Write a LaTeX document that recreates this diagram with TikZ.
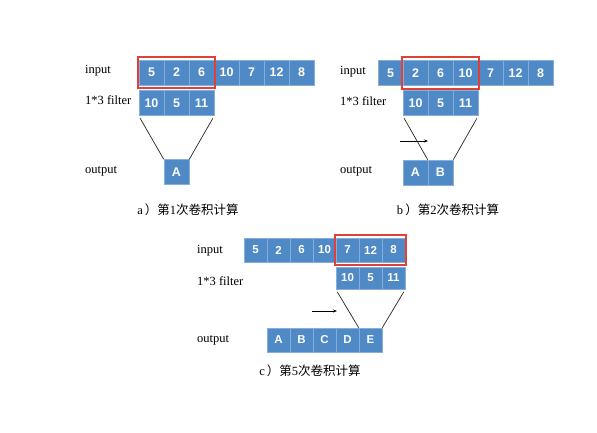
\documentclass[tikz,border=0pt]{standalone}
\usepackage{fontspec}
\setmainfont{Liberation Serif}
\newfontfamily\cellfont{Liberation Sans}
\newfontfamily\cjkfont{Noto Sans CJK SC}
\usetikzlibrary{fit,arrows.meta}
\definecolor{cellblue}{HTML}{4F89C6}
\definecolor{celledge}{HTML}{86AEDA}
\definecolor{boxred}{HTML}{E0403A}
\tikzset{
  cell/.style={rectangle,fill=cellblue,draw=celledge,line width=0.6pt,
    minimum width=25pt,minimum height=25pt,inner sep=0pt,text=white,
    font=\cellfont\bfseries\fontsize{12.5}{12.5}\selectfont},
  smallcell/.style={cell,minimum width=23pt,minimum height=24pt,
    font=\cellfont\bfseries\fontsize{11.5}{11.5}\selectfont},
  lbl/.style={anchor=west,inner sep=0pt,font=\fontsize{12.5}{13}\selectfont},
  captext/.style={inner sep=0pt,font=\fontsize{12.5}{13}\selectfont},
  redbox/.style={draw=boxred,line width=1.8pt,inner xsep=1pt,inner ysep=3pt},
  funnel/.style={draw=black!85,line width=0.7pt},
  shiftarrow/.style={draw=black,line width=0.7pt,-{Stealth[length=4pt,width=3pt]}}
}
\begin{document}
\begin{tikzpicture}[x=1pt,y=-1pt]
\useasboundingbox (0,0) rectangle (597,433);
\fill[white] (0,0) rectangle (597,433);

% ---------- panel a ----------
\foreach \v [count=\i] in {5,2,6,10,7,12,8}
  \node[cell] (a-in-\i) at ({151.5+25*(\i-1)},72.5) {\v};
\foreach \v [count=\i] in {10,5,11}
  \node[cell] (a-f-\i) at ({151.5+25*(\i-1)},103) {\v};
\node[cell] (a-out-1) at (176.5,172) {A};
\node[redbox,fit=(a-in-1)(a-in-3)] (a-red) {};
\draw[funnel,shorten <=3pt] (a-f-1.south west) -- (a-out-1.north west);
\draw[funnel,shorten <=3pt] (a-f-3.south east) -- (a-out-1.north east);
\node[lbl] (a-l1) at (85,71) {input};
\node[lbl] (a-l2) at (85,100) {1*3 filter};
\node[lbl] (a-l3) at (85,171) {output};
\node[captext] (a-cap) at (188,210) {a\,{\cjkfont ）第}1{\cjkfont 次卷积计算}};

% ---------- panel b ----------
\foreach \v [count=\i] in {5,2,6,10,7,12,8}
  \node[cell] (b-in-\i) at ({390.5+25*(\i-1)},73) {\v};
\foreach \v [count=\i] in {10,5,11}
  \node[cell] (b-f-\i) at ({415.5+25*(\i-1)},103) {\v};
\node[cell] (b-out-1) at (415.5,172.5) {A};
\node[cell] (b-out-2) at (440.5,172.5) {B};
\node[redbox,fit=(b-in-2)(b-in-4)] (b-red) {};
\draw[funnel,shorten <=3pt] (b-f-1.south west) -- (b-out-2.north west);
\draw[funnel,shorten <=3pt] (b-f-3.south east) -- (b-out-2.north east);
\coordinate (b-a1) at (400,141);
\coordinate (b-a2) at (428,141);
\draw[shiftarrow] (b-a1) -- (b-a2);
\node[lbl] (b-l1) at (340,72) {input};
\node[lbl] (b-l2) at (340,101) {1*3 filter};
\node[lbl] (b-l3) at (340,171) {output};
\node[captext] (b-cap) at (448,210) {b\,{\cjkfont ）第}2{\cjkfont 次卷积计算}};

% ---------- panel c ----------
\foreach \v [count=\i] in {5,2,6,10,7,12,8}
  \node[smallcell] (c-in-\i) at ({255.5+23*(\i-1)},250) {\v};
\foreach \v [count=\i] in {10,5,11}
  \node[smallcell,minimum height=22pt] (c-f-\i) at ({347.5+23*(\i-1)},278) {\v};
\foreach \v [count=\i] in {A,B,C,D,E}
  \node[smallcell] (c-out-\i) at ({278.5+23*(\i-1)},340) {\v};
\node[redbox,fit=(c-in-5)(c-in-7)] (c-red) {};
\draw[funnel,shorten <=3pt] (c-f-1.south west) -- (c-out-5.north west);
\draw[funnel,shorten <=3pt] (c-f-3.south east) -- (c-out-5.north east);
\coordinate (c-a1) at (312,311);
\coordinate (c-a2) at (337,311);
\draw[shiftarrow] (c-a1) -- (c-a2);
\node[lbl] (c-l1) at (197,251) {input};
\node[lbl] (c-l2) at (197,281) {1*3 filter};
\node[lbl] (c-l3) at (197,340) {output};
\node[captext] (c-cap) at (310,371) {c\,{\cjkfont ）第}5{\cjkfont 次卷积计算}};
\end{tikzpicture}
\end{document}
